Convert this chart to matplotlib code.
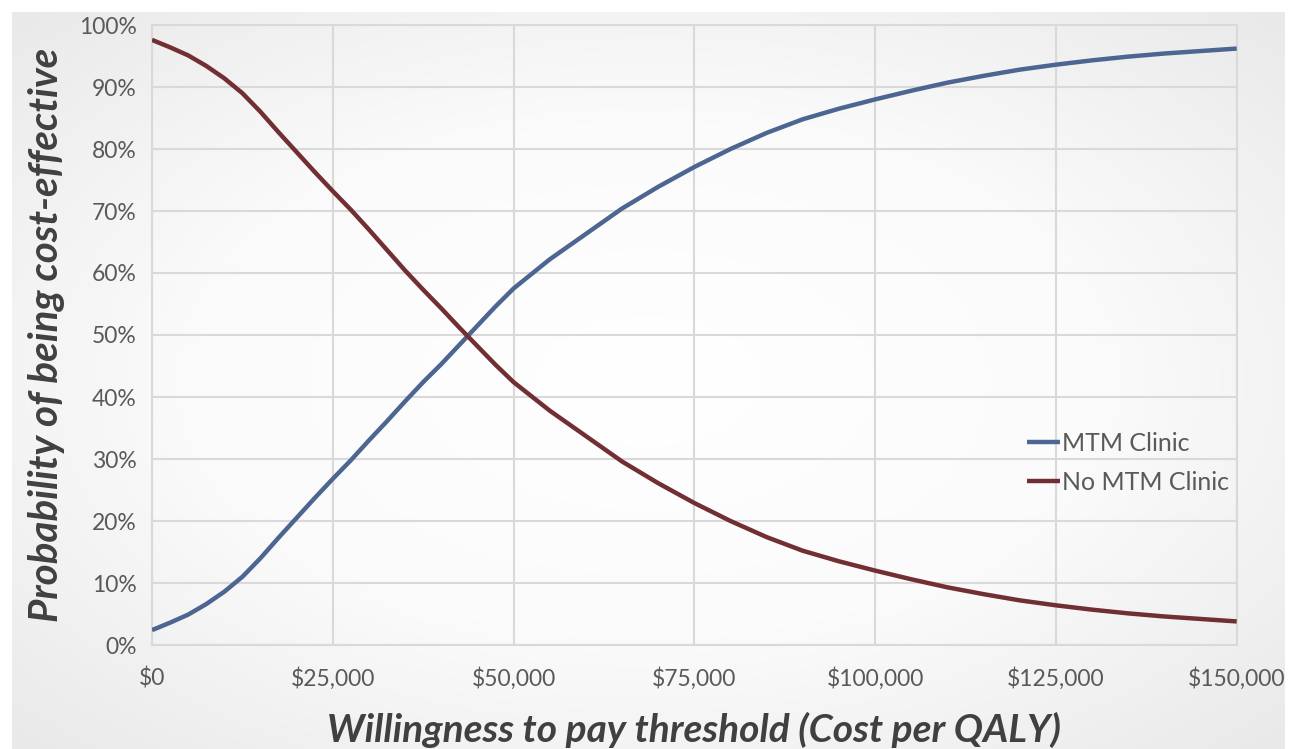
"""Cost-effectiveness acceptability curve: MTM Clinic vs No MTM Clinic."""

import matplotlib
matplotlib.use("Agg")
import matplotlib.pyplot as plt
import numpy as np
from matplotlib.colors import LinearSegmentedColormap
from matplotlib.ticker import FuncFormatter, MultipleLocator

# willingness to pay, $ thousands
wtp_k = [0, 2.5, 5, 7.5, 10, 12.5, 15, 17.5, 20, 22.5, 25, 27.5, 30, 32.5,
         35, 37.5, 40, 42.5, 45, 47.5, 50, 55, 60, 65, 70, 75, 80, 85, 90,
         95, 100, 105, 110, 115, 120, 125, 130, 135, 140, 145, 150]

# probability of being cost-effective, %
mtm = [2.4, 3.6, 4.9, 6.6, 8.6, 11.0, 14.0, 17.3, 20.5, 23.7, 26.8, 29.8,
       33.0, 36.1, 39.3, 42.4, 45.3, 48.4, 51.5, 54.6, 57.5, 62.2, 66.3,
       70.4, 73.9, 77.1, 80.0, 82.6, 84.8, 86.5, 88.0, 89.4, 90.7, 91.8,
       92.8, 93.6, 94.3, 94.9, 95.4, 95.8, 96.2]
no_mtm = [97.6, 96.4, 95.1, 93.4, 91.4, 89.0, 86.0, 82.7, 79.5, 76.3, 73.2,
          70.2, 67.0, 63.7, 60.4, 57.3, 54.3, 51.2, 48.2, 45.2, 42.4, 37.8,
          33.7, 29.6, 26.1, 22.9, 20.0, 17.4, 15.2, 13.5, 12.0, 10.6, 9.3,
          8.2, 7.2, 6.4, 5.7, 5.1, 4.6, 4.2, 3.8]

series_names = ["MTM Clinic", "No MTM Clinic"]
series_colors = ["#4D6691", "#722F33"]

FONT = ["Lato", "DejaVu Sans"]
plt.rcParams["font.family"] = FONT

W, H = 1297, 749
fig = plt.figure(figsize=(W / 100, H / 100), dpi=100, facecolor="white")

# soft radial vignette behind the chart, like the slide background
bg = fig.add_axes([12 / W, 0, (1285 - 12) / W, (H - 12) / H], zorder=-10)
yy, xx = np.mgrid[-1:1:200j, -1:1:340j]
r = np.clip(np.sqrt(xx ** 2 + yy ** 2) / np.sqrt(2), 0, 1)
cmap = LinearSegmentedColormap.from_list("vig", ["#FFFFFF", "#FBFBFB", "#E9E9E9"])
bg.imshow(r, cmap=cmap, aspect="auto", vmin=0, vmax=1, interpolation="bilinear")
bg.axis("off")

ax = fig.add_axes([152 / W, 1 - 645 / H, (1236.7 - 152) / W, (645 - 25) / H])
ax.set_facecolor("none")

x = np.array(wtp_k) * 1000
for vals, name, col in zip([mtm, no_mtm], series_names, series_colors):
    ax.plot(x, np.array(vals) / 100, color=col, lw=3.2, label=name,
            solid_capstyle="butt", solid_joinstyle="round", zorder=3)

ax.set_xlim(0, 150000)
ax.set_ylim(0, 1)
ax.xaxis.set_major_locator(MultipleLocator(25000))
ax.yaxis.set_major_locator(MultipleLocator(0.1))
ax.xaxis.set_major_formatter(FuncFormatter(lambda v, p: f"${v:,.0f}"))
ax.yaxis.set_major_formatter(FuncFormatter(lambda v, p: f"{v * 100:.0f}%"))
ax.grid(True, color="#D9D9D9", lw=1.5, zorder=0)
for s in ax.spines.values():
    s.set_color("#D9D9D9")
    s.set_linewidth(1.5)
ax.tick_params(length=0, labelsize=16.5, labelcolor="#595959")
ax.tick_params(axis="x", pad=16)
ax.tick_params(axis="y", pad=11)

ax.set_xlabel("Willingness to pay threshold (Cost per QALY)", fontsize=28,
              fontweight="bold", style="italic", color="#404040", labelpad=16)
ax.set_ylabel("Probability of being cost-effective", fontsize=29,
              fontweight="bold", style="italic", color="#404040", labelpad=10)

leg = ax.legend(loc="center left", bbox_to_anchor=(0.797, 0.294), frameon=False,
                fontsize=18, handlelength=1.35, handletextpad=0.08,
                labelspacing=0.65, borderaxespad=0)
for t in leg.get_texts():
    t.set_color("#595959")

fig.savefig("out.png", dpi=100, facecolor="white")
